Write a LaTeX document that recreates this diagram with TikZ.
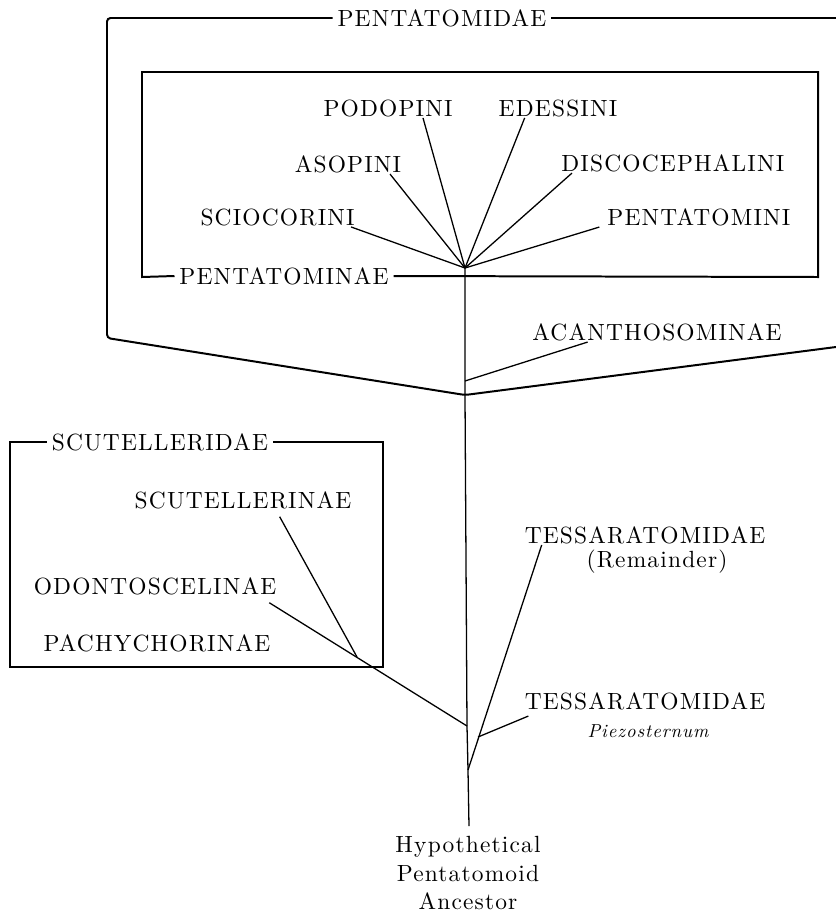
\documentclass[tikz,border=0pt]{standalone}
\usepackage{fontspec}
\setmainfont{lmroman10-regular.otf}[ItalicFont=lmroman10-italic.otf,LetterSpace=5]
\usepackage{tikz}

\begin{document}
\begin{tikzpicture}[x=0.03cm,y=-0.03cm,
	taxon/.style={inner sep=1pt,font=\fontsize{20}{25}\selectfont},
	title/.style={taxon,inner xsep=4pt},
	frame/.style={line width=1.7pt},
	branch/.style={line width=1.1pt}]
	\useasboundingbox (0,0) rectangle (836,914);
	\node[title] (pentatomidae) at (442,18) {PENTATOMIDAE};
	\node[taxon] (podopini) at (388,108) {PODOPINI};
	\node[taxon] (edessini) at (558,108) {EDESSINI};
	\node[taxon] (asopini) at (348,164) {ASOPINI};
	\node[taxon,anchor=west] (discoceph) at (560,163) {DISCOCEPHALINI};
	\node[taxon,anchor=east] (sciocorini) at (356,217) {SCIOCORINI};
	\node[taxon,anchor=west] (pentatomini) at (606,217) {PENTATOMINI};
	\node[title] (pentatominae) at (284,276) {PENTATOMINAE};
	\node[taxon] (acanthosominae) at (657,332) {ACANTHOSOMINAE};
	\node[title] (scutelleridae) at (160,442) {SCUTELLERIDAE};
	\node[taxon] (scutellerinae) at (243,500) {SCUTELLERINAE};
	\node[taxon] (odontoscelinae) at (155,586) {ODONTOSCELINAE};
	\node[taxon] (pachychorinae) at (157,643) {PACHYCHORINAE};
	\node[taxon] (tessrem) at (645,535) {TESSARATOMIDAE};
	\node[taxon] (remainder) at (657,562) {(Remainder)};
	\node[taxon] (tesspiez) at (645,701) {TESSARATOMIDAE};
	\node[inner sep=1pt,font=\fontsize{16}{18}\selectfont\itshape] (piezosternum) at (648,731) {Piezosternum};
	\node[taxon,align=center,font=\fontsize{20}{24.2}\selectfont] (ancestor) at (468,873) {Hypothetical\\Pentatomoid\\Ancestor};
	\coordinate (star) at (465,268);
	\coordinate (acanj) at (465,381);
	\coordinate (vertex) at (465,395);
	\coordinate (scutj) at (467,726);
	\coordinate (tessj) at (468,770);
	\coordinate (piezj) at (478,737);
	\coordinate (cross) at (357,657);
	\coordinate (root) at (469,826);
	\draw[frame,rounded corners=3pt] (pentatomidae.west) -- (107,18) -- (107,338) -- (vertex) -- (836,347);
	\draw[frame] (pentatomidae.east) -- (836,18);
	\draw[frame] (pentatominae.west) -- (142,277) -- (142,72) -- (818,72) -- (818,277) -- (pentatominae.east);
	\draw[frame] (scutelleridae.west) -- (10,442) -- (10,667) -- (383,667) -- (383,442) -- (scutelleridae.east);
	\draw[branch] (star) -- (acanj) -- (vertex) -- (scutj) -- (tessj) -- (root);
	\draw[branch] ([xshift=-0.15cm]sciocorini.south east) -- (star);
	\draw[branch] ([xshift=1.26cm]asopini.south) -- (star);
	\draw[branch] ([xshift=1.05cm]podopini.south) -- (star);
	\draw[branch] ([xshift=-1cm]edessini.south) -- (star);
	\draw[branch] ([xshift=0.36cm]discoceph.south west) -- (star);
	\draw[branch] ([xshift=-0.2cm]pentatomini.south west) -- (star);
	\draw[branch] ([xshift=1.7cm]acanthosominae.south west) -- (acanj);
	\draw[branch] ([xshift=1.1cm,yshift=-0.2cm]scutellerinae.south) -- (cross);
	\draw[branch] ([xshift=-0.25cm,yshift=-0.2cm]odontoscelinae.south east) -- (scutj);
	\draw[branch] ([xshift=0.55cm]tessrem.south west) -- (tessj);
	\draw[branch] ([xshift=0.15cm,yshift=-0.15cm]tesspiez.south west) -- (piezj);
\end{tikzpicture}
\end{document}
